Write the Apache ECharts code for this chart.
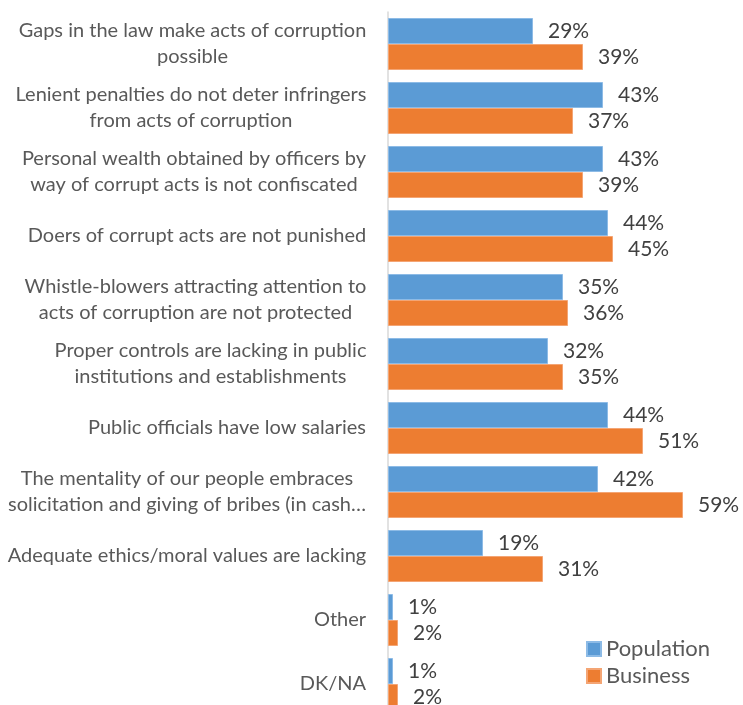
<!DOCTYPE html>
<html>
<head>
<meta charset="utf-8">
<script src="https://cdn.jsdelivr.net/npm/echarts@6/dist/echarts.min.js"></script>
<style>
  html, body { margin: 0; padding: 0; background: #ffffff; }
  #chart { width: 743px; height: 705px; }
</style>
</head>
<body>
<div id="chart"></div>
<script>
// Reasons for corruption, share of respondents (%)
const categories = [
  'Gaps in the law make acts of corruption\npossible',
  'Lenient penalties do not deter infringers\nfrom acts of corruption',
  'Personal wealth obtained by officers by\nway of corrupt acts is not confiscated',
  'Doers of corrupt acts are not punished',
  'Whistle-blowers attracting attention to\nacts of corruption are not protected',
  'Proper controls are lacking in public\ninstitutions and establishments',
  'Public officials have low salaries',
  'The mentality of our people embraces\nsolicitation and giving of bribes (in cash\u2026',
  'Adequate ethics/moral values are lacking',
  'Other',
  'DK/NA'
];
const population = [29, 43, 43, 44, 35, 32, 44, 42, 19, 1, 1];
const business = [39, 37, 39, 45, 36, 35, 51, 59, 31, 2, 2];
const seriesNames = ['Population', 'Business'];

const FONT = 'Lato';
const CAT_SIZE = 20;

// Each wrapped category label is right-aligned as a block, its lines centred
// within that block: measure the widest line to size a rich-text box per label.
const measureCtx = document.createElement('canvas').getContext('2d');
measureCtx.font = CAT_SIZE + 'px ' + FONT;
const catRich = {};
categories.forEach(function (name, i) {
  const w = Math.max.apply(null, name.split('\n').map(function (l) {
    return measureCtx.measureText(l).width;
  }));
  catRich['c' + i] = {
    width: Math.ceil(w) + 1,
    align: 'center',
    fontFamily: FONT,
    fontSize: CAT_SIZE,
    lineHeight: 26,
    color: '#595959'
  };
});

const chart = echarts.init(document.getElementById('chart'), null, { renderer: 'canvas' });

const labelStyle = {
  show: true,
  position: 'right',
  distance: 15,
  formatter: '{c}%',
  fontFamily: FONT,
  fontSize: 21,
  color: '#404040'
};

chart.setOption({
  animation: false,
  textStyle: { fontFamily: FONT },
  grid: {
    left: 388,
    top: 12,
    width: 350,
    height: 704,
    outerBoundsMode: 'none',
    containLabel: false
  },
  legend: {
    orient: 'vertical',
    left: 586,
    top: 638,
    padding: 0,
    itemWidth: 14,
    itemHeight: 14,
    itemGap: 5,
    icon: 'rect',
    textStyle: { fontFamily: FONT, fontSize: 22, color: '#595959' },
    data: seriesNames
  },
  xAxis: {
    type: 'value',
    min: 0,
    max: 70,
    show: false,
    splitLine: { show: false }
  },
  yAxis: {
    type: 'category',
    inverse: true,
    data: categories,
    axisLine: { show: true, lineStyle: { color: '#d9d9d9', width: 1.5 } },
    axisTick: { show: false },
    splitLine: { show: false },
    axisLabel: {
      margin: 21,
      fontFamily: FONT,
      fontSize: CAT_SIZE,
      lineHeight: 26,
      color: '#595959',
      align: 'right',
      formatter: function (value, index) {
        return value.split('\n').map(function (l) {
          return '{c' + index + '|' + l + '}';
        }).join('\n');
      },
      rich: catRich
    }
  },
  series: [
    {
      name: seriesNames[0],
      type: 'bar',
      data: population,
      barGap: '0%',
      barCategoryGap: '18.75%',
      itemStyle: { color: '#5b9bd5', borderColor: '#8dbbe6', borderWidth: 1 },
      label: labelStyle
    },
    {
      name: seriesNames[1],
      type: 'bar',
      data: business,
      barGap: '0%',
      barCategoryGap: '18.75%',
      itemStyle: { color: '#ed7d31', borderColor: '#f4a574', borderWidth: 1 },
      label: labelStyle
    }
  ]
});
</script>
</body>
</html>
